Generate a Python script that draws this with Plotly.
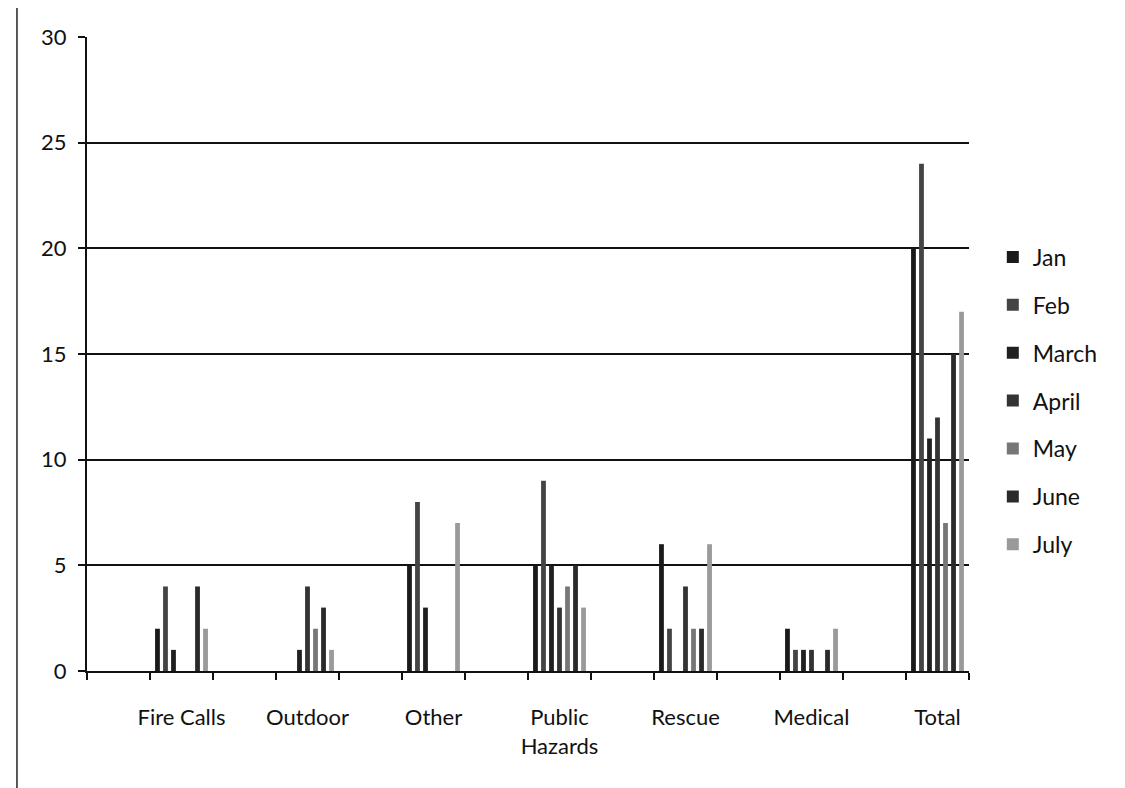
import plotly.graph_objects as go

# ---- data ----
categories = ["Fire Calls", "Outdoor", "Other", "Public<br>Hazards", "Rescue", "Medical", "Total"]
months = ["Jan", "Feb", "March", "April", "May", "June", "July"]

jan   = [2, 0, 5, 5, 6, 2, 20]
feb   = [4, 0, 8, 9, 2, 1, 24]
march = [1, 1, 3, 5, 0, 1, 11]
april = [0, 4, 0, 3, 4, 1, 12]
may   = [0, 2, 0, 4, 2, 0, 7]
june  = [4, 3, 0, 5, 2, 1, 15]
july  = [2, 1, 7, 3, 6, 2, 17]

series = [jan, feb, march, april, may, june, july]
colors = ["#1a1a1a", "#444444", "#202020", "#333333", "#777777", "#2a2a2a", "#9a9a9a"]

y_ticks = [0, 5, 10, 15, 20, 25, 30]

# the original chart has an empty category slot before every labelled one
slots = []
for i, c in enumerate(categories):
    slots.append(" " * (i + 1))
    slots.append(c)

FONT = "Lato"

fig = go.Figure()
for name, vals, col in zip(months, series, colors):
    fig.add_trace(go.Bar(
        x=categories, y=vals, name=name, legendgroup=name,
        marker=dict(color=col, line=dict(width=0)),
    ))

fig.update_layout(
    width=1125, height=788,
    margin=dict(l=79, r=164, t=29, b=125),
    paper_bgcolor="white", plot_bgcolor="white",
    barmode="group", bargap=0.11, bargroupgap=0.4,
    font=dict(family=FONT, size=22, color="#111111"),
    showlegend=True,
    legend=dict(x=1.027, y=0.687, xanchor="left", yanchor="top",
                font=dict(family=FONT, size=23, color="#111111"),
                tracegroupgap=15, bgcolor="rgba(0,0,0,0)",
                itemwidth=30),
    xaxis=dict(
        type="category", categoryorder="array", categoryarray=slots,
        range=[-0.5, len(slots) - 0.5], automargin=False,
        tickson="boundaries", ticks="outside", ticklen=7, tickwidth=2,
        tickcolor="#111111", tickangle=0,
        showline=True, linecolor="#111111", linewidth=2,
        showgrid=False, ticklabelstandoff=26,
        tickfont=dict(family=FONT, size=22, color="#111111"),
    ),
    yaxis=dict(
        range=[0, 30], tickvals=y_ticks, automargin=False,
        ticks="outside", ticklen=7, tickwidth=2, tickcolor="#111111",
        showline=True, linecolor="#111111", linewidth=2,
        showgrid=True, gridcolor="#111111", gridwidth=1.6,
        zeroline=False, ticklabelstandoff=7,
        tickfont=dict(family=FONT, size=22, color="#111111"),
    ),
    shapes=[
        dict(type="line", xref="paper", yref="paper",
             x0=-0.0794, x1=-0.0794, y0=1.1, y1=-0.25,
             line=dict(color="#222222", width=1.5)),
    ],
)

fig.write_html("out.html")
